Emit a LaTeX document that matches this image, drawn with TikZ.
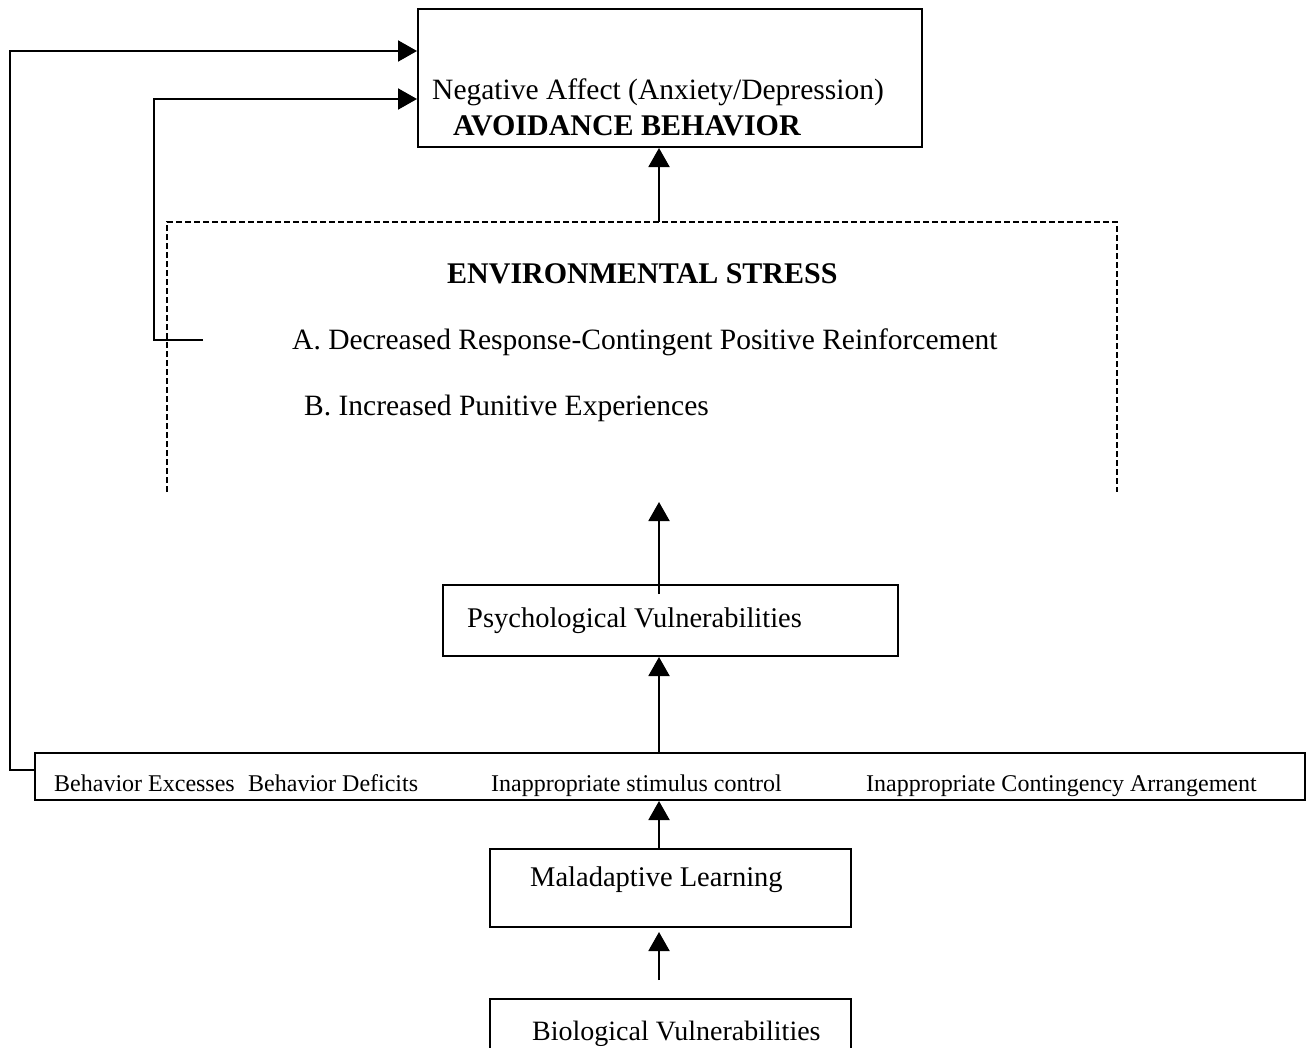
\documentclass[tikz,border=0pt]{standalone}
\usepackage{fontspec}
\setmainfont{Liberation Serif}
\usetikzlibrary{arrows.meta}
\begin{document}
\begin{tikzpicture}[x=1pt,y=-1pt,
  box/.style={draw,line width=2pt,inner sep=0pt,minimum width=#1},
  lbl/.style={anchor=base west,inner sep=0pt,font=\fontsize{28.5}{30}\selectfont},
  big/.style={anchor=base west,inner sep=0pt,font=\fontsize{29.5}{31}\selectfont},
  bigb/.style={anchor=base west,inner sep=0pt,font=\fontsize{30}{32}\selectfont\bfseries},
  small/.style={anchor=base west,inner sep=0pt,font=\fontsize{24}{26}\selectfont},
  arr/.style={line width=2pt,-{Triangle[length=19pt,width=21pt]}},
  dashframe/.style={line width=1.4pt,dash pattern=on 6pt off 3pt}]
\useasboundingbox (0,0) rectangle (1309,1047);
\clip (0,0) rectangle (1309,1047);
% boxes
\node[box=504pt,minimum height=138pt] (top) at (670,78) {};
\node[box=455pt,minimum height=71pt] (psy) at (670.5,620.5) {};
\node[box=1270pt,minimum height=47pt] (bot) at (670,776.5) {};
\node[box=361pt,minimum height=78pt] (mal) at (670.5,888) {};
\node[box=361pt,minimum height=90pt] (bio) at (670.5,1044) {};
% texts
\node[big] (t1) at (432,99.5) {Negative Affect (Anxiety/Depression)};
\node[bigb] (t2) at (453,135.5) {AVOIDANCE BEHAVIOR};
\node[bigb] (env) at (447,283.5) {ENVIRONMENTAL STRESS};
\node[big] (ea) at (292,349.5) {A. Decreased Response-Contingent Positive Reinforcement};
\node[big] (eb) at (304,415.5) {B. Increased Punitive Experiences};
\node[lbl] (tp) at (467,627) {Psychological Vulnerabilities};
\node[small] (b1) at (54,791.5) {Behavior Excesses};
\node[small] (b2) at (248,791.5) {Behavior Deficits};
\node[small] (b3) at (491,791.5) {Inappropriate stimulus control};
\node[small] (b4) at (866,791.5) {Inappropriate Contingency Arrangement};
\node[lbl] (tm) at (530,886) {Maladaptive Learning};
\node[lbl,font=\fontsize{28}{30}\selectfont] (tb) at (532,1040) {Biological Vulnerabilities};
% dashed frame
\coordinate (dl) at (167,492);
\coordinate (dtl) at (167,222);
\coordinate (dtr) at (1117,222);
\coordinate (dr) at (1117,492);
\draw[dashframe] (dl) -- (dtl) -- (dtr) -- (dr);
% vertical axis of arrows
\coordinate (ax) at (659,0);
\coordinate (envbot) at (659,502);
\draw[arr] (dtl -| ax) -- (top.south -| ax);
\draw[arr] ([yshift=-10pt]psy.north -| ax) -- (envbot);
\draw[arr] (bot.north -| ax) -- (psy.south -| ax);
\draw[arr] (mal.north -| ax) -- (bot.south -| ax);
\draw[arr] ([yshift=18pt]bio.north -| ax) -- ([yshift=-4pt]mal.south -| ax);
% feedback arrows
\draw[arr] ([yshift=6.5pt]bot.west) -- ++(-24,0) |- ([yshift=27pt]top.west);
\coordinate (astart) at (203,339.5);
\draw[arr] (astart) -| (154,99) -- ([yshift=-21pt]top.west);
\end{tikzpicture}
\end{document}
